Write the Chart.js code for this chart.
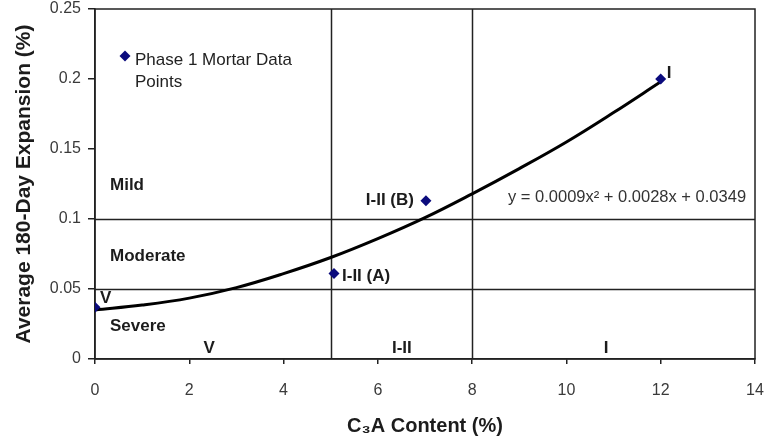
<!DOCTYPE html>
<html>
<head>
<meta charset="utf-8">
<script src="https://cdn.jsdelivr.net/npm/chart.js@4.4.0/dist/chart.umd.min.js"></script>
<style>
html,body{margin:0;padding:0;background:#fff;}
#c{display:block;}
</style>
</head>
<body>
<canvas id="c" width="765" height="442"></canvas>
<script>
// ---- data ----
const pointLabels = ['V', 'I-II (A)', 'I-II (B)', 'I'];
const c3aContent = [0, 5.07, 7.02, 12];
const expansion = [0.037, 0.061, 0.113, 0.200];

const trendX = [0, 1, 2, 3, 4, 5, 6, 7, 8, 9, 10, 11, 12];
const trendY = [0.035, 0.0385, 0.0435, 0.051, 0.061, 0.0725, 0.086, 0.101, 0.118, 0.136, 0.155, 0.176, 0.198];

const xTicks = [0, 2, 4, 6, 8, 10, 12, 14];
const yTicks = [0, 0.05, 0.1, 0.15, 0.2, 0.25];

const classBoundaries = [5, 8];          // vertical lines (C3A %)
const severityLimits = [0.05, 0.1];      // horizontal lines (expansion %)

const severityLabels = ['Mild', 'Moderate', 'Severe'];
const severityLevels = [0.124, 0.073, 0.023];
const classLabels = ['V', 'I-II', 'I'];
const classCenters = [2.42, 6.51, 10.84];

const legendText = ['Phase 1 Mortar Data', 'Points'];
const equationText = 'y = 0.0009x\u00B2 + 0.0028x + 0.0349';

// ---- styling ----
const INK = '#1c1c1c';
const MARK = '#0b0b7d';
const FAMILY = '"Liberation Sans", Arial, sans-serif';
const BOLD = 'bold 17px ' + FAMILY;

const overlay = {
  id: 'overlay',
  beforeDatasetsDraw(chart) {
    const {ctx, chartArea: a, scales: {x, y}} = chart;
    ctx.save();
    ctx.strokeStyle = '#222';
    ctx.lineWidth = 1.5;
    ctx.beginPath();
    classBoundaries.forEach(v => {
      const px = Math.round(x.getPixelForValue(v)) + 0.5;
      ctx.moveTo(px, a.top); ctx.lineTo(px, a.bottom);
    });
    severityLimits.forEach(v => {
      const py = Math.round(y.getPixelForValue(v)) + 0.5;
      ctx.moveTo(a.left, py); ctx.lineTo(a.right, py);
    });
    ctx.stroke();
    ctx.strokeRect(a.left, a.top, a.right - a.left, a.bottom - a.top);

    ctx.fillStyle = INK;
    ctx.font = BOLD;
    ctx.textBaseline = 'middle';
    ctx.textAlign = 'left';
    severityLabels.forEach((t, i) => {
      ctx.fillText(t, a.left + 15, y.getPixelForValue(severityLevels[i]));
    });
    ctx.textAlign = 'center';
    classLabels.forEach((t, i) => {
      ctx.fillText(t, x.getPixelForValue(classCenters[i]), a.bottom - 11);
    });

    // equation
    ctx.font = '16.5px ' + FAMILY;
    ctx.fillStyle = '#333';
    ctx.textAlign = 'left';
    ctx.fillText(equationText, a.left + 413, a.top + 188);

    // legend
    const lx = a.left + 30, ly = a.top + 47;
    ctx.fillStyle = MARK;
    ctx.beginPath();
    ctx.moveTo(lx - 5.5, ly); ctx.lineTo(lx, ly - 5.5); ctx.lineTo(lx + 5.5, ly); ctx.lineTo(lx, ly + 5.5);
    ctx.closePath(); ctx.fill();
    ctx.fillStyle = '#222';
    ctx.font = '17px ' + FAMILY;
    ctx.fillText(legendText[0], lx + 10, ly + 4);
    ctx.fillText(legendText[1], lx + 10, ly + 26);
    ctx.restore();
  },
  afterDatasetsDraw(chart) {
    const {ctx} = chart;
    const meta = chart.getDatasetMeta(0);
    const offs = [[5, -9, 'left'], [8, 3, 'left'], [-12, 0, 'right'], [6, -6, 'left']];
    ctx.save();
    ctx.font = BOLD;
    ctx.fillStyle = INK;
    ctx.textBaseline = 'middle';
    meta.data.forEach((el, i) => {
      const [dx, dy, al] = offs[i];
      ctx.textAlign = al;
      ctx.fillText(pointLabels[i], el.x + dx, el.y + dy);
    });
    ctx.restore();
  }
};

new Chart(document.getElementById('c'), {
  type: 'scatter',
  data: {
    datasets: [
      {
        label: 'Phase 1 Mortar Data Points',
        data: c3aContent.map((v, i) => ({x: v, y: expansion[i]})),
        pointStyle: 'rectRot',
        pointRadius: 5.5,
        backgroundColor: MARK,
        borderColor: MARK,
        borderWidth: 0,
        showLine: false,
        order: 0
      },
      {
        label: 'Trend',
        data: trendX.map((v, i) => ({x: v, y: trendY[i]})),
        showLine: true,
        borderColor: '#000',
        borderWidth: 3,
        pointRadius: 0,
        tension: 0.4,
        order: 1
      }
    ]
  },
  options: {
    responsive: false,
    animation: false,
    layout: {padding: {left: 0, right: 10, top: 9, bottom: 0}},
    plugins: {legend: {display: false}, tooltip: {enabled: false}},
    scales: {
      x: {
        type: 'linear', min: 0, max: 14,
        afterBuildTicks: s => { s.ticks = xTicks.map(v => ({value: v})); },
        afterFit: s => { s.height = 83; s.paddingLeft = 0; s.paddingRight = 0; },
        ticks: {color: '#3a3a3a', font: {size: 16, family: FAMILY}, padding: 17,
                callback: v => String(v)},
        grid: {drawOnChartArea: false, drawTicks: true, tickLength: 5, color: '#222', lineWidth: 1.5},
        border: {display: true, color: '#222', width: 1.5},
        title: {display: true, text: 'C\u2083A Content (%)', color: INK,
                font: {size: 20, weight: 'bold', family: FAMILY},
                padding: {top: 0, bottom: 4}}
      },
      y: {
        type: 'linear', min: 0, max: 0.25,
        afterBuildTicks: s => { s.ticks = yTicks.map(v => ({value: v})); },
        afterFit: s => { s.width = 95; s.paddingTop = 0; s.paddingBottom = 0; },
        ticks: {color: '#3a3a3a', font: {size: 16, family: FAMILY}, padding: 7,
                callback: v => String(Math.round(v * 100) / 100)},
        grid: {drawOnChartArea: false, drawTicks: true, tickLength: 7, color: '#222', lineWidth: 1.5},
        border: {display: true, color: '#222', width: 1.5},
        title: {display: true, text: 'Average 180-Day Expansion (%)', color: INK,
                font: {size: 21, weight: 'bold', family: FAMILY},
                padding: {top: 12, bottom: 0}}
      }
    }
  },
  plugins: [overlay]
});
</script>
</body>
</html>
